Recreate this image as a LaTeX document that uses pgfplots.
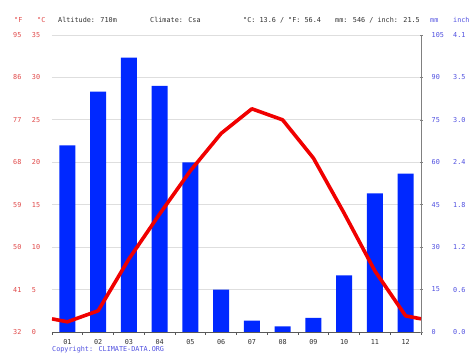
\documentclass[border=0pt]{standalone}
\usepackage{fontspec}
\setmainfont{DejaVu Sans Mono}
\usepackage{pgfplots}
\pgfplotsset{compat=1.18}
\definecolor{tred}{HTML}{E04848}
\definecolor{tblue}{HTML}{5050E0}
\definecolor{barblue}{HTML}{0028FF}
\definecolor{linered}{HTML}{F00000}
\definecolor{txt}{HTML}{303030}
\pgfplotstableread{
m prec
1 66
2 85
3 97
4 87
5 60
6 15
7 4
8 2
9 5
10 20
11 49
12 56
}\prectab
\pgfplotstableread{
m temp
0.5 1.55
1 1.2
2 2.5
3 8.6
4 13.9
5 19.0
6 23.4
7 26.3
8 25.0
9 20.5
10 14.0
11 7.2
12 1.9
12.5 1.55
}\temptab
\begin{document}
\fontsize{6.8bp}{8bp}\selectfont
\begin{tikzpicture}
\path[use as bounding box] (0,0) rectangle (474bp,355bp);
\pgfplotsset{base/.style={at={(52bp,23bp)}, anchor=south west, scale only axis,
  width=369bp, height=297bp, xmin=0.5, xmax=12.5,
  tick label style={font=\fontsize{6.8bp}{8bp}\selectfont}}}
% axis 1: grid, x axis, degC labels
\begin{axis}[base, ymin=0, ymax=35,
  axis x line*=bottom, axis y line*=left, y axis line style={draw=none},
  x axis line style={draw=black!65, line width=0.8bp},
  ytick={0,5,...,35}, yticklabels={0,5,10,15,20,25,30,35},
  yticklabel style={anchor=west, inner sep=0pt, xshift=-16bp, text=tred},
  ymajorgrids, grid style={draw=black!13, line width=0.8bp},
  major y tick style={draw=none},
  xtick={1,...,12}, xticklabels={01,02,03,04,05,06,07,08,09,10,11,12},
  xticklabel style={text=txt, yshift=-1bp},
  major x tick style={draw=none},
  minor xtick={0.5,1.5,...,12.5}, minor tick length=3bp,
  minor x tick style={draw=black!65, line width=0.6bp},
  tick align=outside]
\addplot[draw=none] coordinates {(1,0)};
\end{axis}
% axis 2: precipitation bars, mm labels
\begin{axis}[base, ymin=0, ymax=105,
  axis x line=none, axis y line*=right,
  y axis line style={draw=black!50, line width=0.8bp},
  ytick={0,15,...,105}, yticklabels={0,15,30,45,60,75,90,105},
  yticklabel style={anchor=west, inner sep=0pt, xshift=9bp, text=tblue},
  major tick length=3bp, tick align=center,
  major y tick style={draw=black!50, line width=0.6bp}]
\addplot[ybar, bar width=16bp, fill=barblue, draw=none] table[x=m, y=prec] {\prectab};
\end{axis}
% axis 3: temperature line, degF labels
\begin{axis}[base, ymin=0, ymax=35, axis x line=none, axis y line*=left,
  y axis line style={draw=none}, major y tick style={draw=none},
  ytick={0,5,...,35}, yticklabels={32,41,50,59,68,77,86,95},
  yticklabel style={anchor=west, inner sep=0pt, xshift=-39bp, text=tred}]
\addplot[linered, line width=3.6bp, line join=round, line cap=butt, mark=none] table[x=m, y=temp] {\temptab};
\end{axis}
% axis 4: inch labels
\begin{axis}[base, ymin=0, ymax=105, axis x line=none, axis y line*=right,
  y axis line style={draw=none}, major y tick style={draw=none},
  ytick={0,15,...,105}, yticklabels={0.0,0.6,1.2,1.8,2.4,3.0,3.5,4.1},
  yticklabel style={anchor=west, inner sep=0pt, xshift=32bp, text=tblue}]
\addplot[draw=none] coordinates {(1,0)};
\end{axis}
% header
\begin{scope}[every node/.style={anchor=base west, inner sep=0pt}]
\node[text=tred] at (14bp,332bp) {°F};
\node[text=tred] at (37bp,332bp) {°C};
\node[text=txt] at (58bp,332bp) {Altitude: 710m};
\node[text=txt] at (150bp,332bp) {Climate: Csa};
\node[text=txt] at (243bp,332bp) {°C: 13.6 / °F: 56.4};
\node[text=txt] at (335bp,332bp) {mm: 546 / inch: 21.5};
\node[text=tblue] at (430bp,332bp) {mm};
\node[text=tblue] at (453bp,332bp) {inch};
\node[text=tblue] at (52bp,4bp) {Copyright: CLIMATE-DATA.ORG};
\end{scope}
\end{tikzpicture}
\end{document}
